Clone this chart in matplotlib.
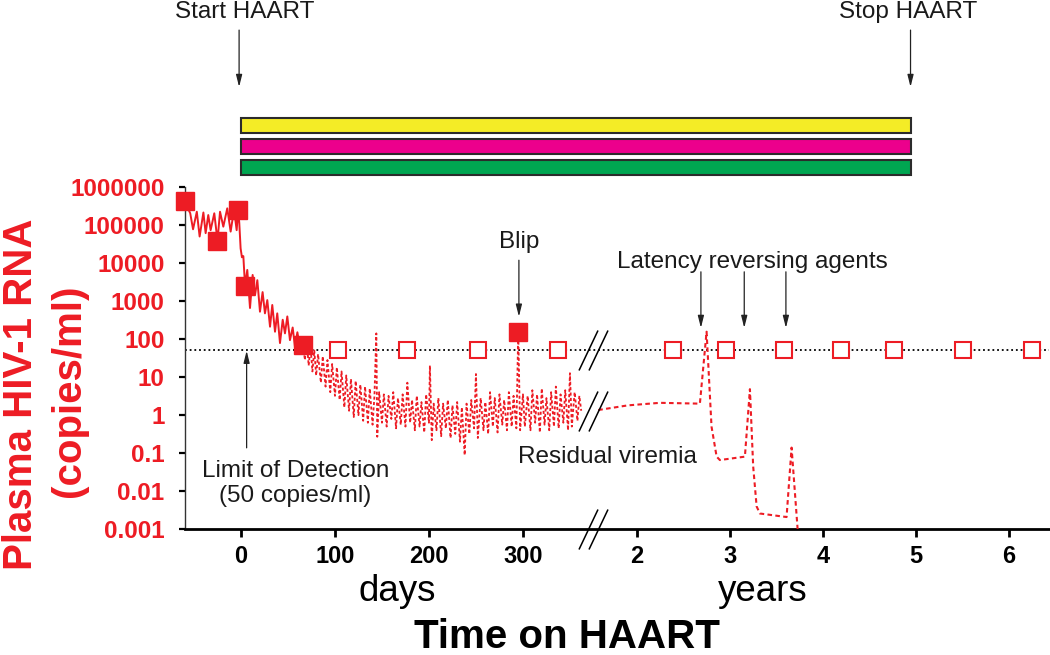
import numpy as np
import matplotlib
matplotlib.use("Agg")
import matplotlib.pyplot as plt
from matplotlib.patches import Rectangle
from matplotlib.path import Path
from matplotlib.ticker import FixedLocator, FixedFormatter, NullLocator

plt.rcParams['font.family'] = ['Liberation Sans', 'DejaVu Sans']

RED = '#ED1C24'
INK = '#1a1a1a'
DAYS_PER_YEAR = 365.25

# ---------------- data ----------------
# acute phase / first weeks of HAART (days, copies/ml)
early_days = [-60, -54, -51, -47, -44, -40, -37.6, -34.8, -32.3, -28.4, -25, -22.3, -18.8,
              -14.6, -11, -7.4, -4.6, -3, -1.8, -0.4, 1.0, 2.5, 4.3, 6.7, 9.6, 12.4, 14.9,
              17.4, 20.2, 23.0, 25.5, 28.0, 30.9, 33.3, 36.2, 38.6, 41.5, 44.4, 46.8, 49.3,
              52.1, 55.0, 57.4, 60.0, 63.0, 66.0]
early_vals = [4.1e5, 2.0e5, 7.6e4, 2.2e5, 4.9e4, 2.1e5, 6.0e4, 1.8e5, 7.2e4, 2.0e5, 3.8e4, 2.2e5,
              8.9e4, 2.7e5, 6.6e4, 2.5e5, 7.2e4, 2.5e5, 1.1e5, 2.4e4, 1.4e4, 1.5e4, 2.5e3, 6.5e3,
              650, 4.8e3, 1.4e3, 3.5e3, 520, 1.7e3, 470, 1.05e3, 210, 780, 155, 470, 78, 320,
              140, 390, 93, 200, 63, 150, 55, 71]

# residual viremia below the limit of detection (days, copies/ml)
resid_days = [66, 68, 70, 72, 74, 76, 78, 80, 82, 85, 87, 90, 92, 95, 97, 100, 102, 105, 107,
              110, 112, 115, 117, 120, 122, 125, 127, 130, 132, 135, 137, 140, 142, 144, 145,
              147, 150, 152, 155, 157, 160, 162, 165, 167, 170, 172, 175, 177, 180, 182, 185,
              187, 190, 192, 195, 197, 200, 201, 203, 205, 208, 210, 213, 215, 218, 220, 223,
              225, 228, 230, 233, 235, 238, 240, 243, 245, 248, 250, 252, 255, 258, 260, 263,
              265, 268, 270, 273, 275, 278, 280, 283, 285, 288, 290, 293, 295, 297, 300, 302,
              305, 308, 310, 313, 315, 318, 320, 323, 325, 328, 330, 333, 335, 338, 340, 343,
              345, 348, 350, 352, 355, 358, 360, 362]
resid_vals = [71, 28, 89, 20, 63, 14, 50, 11, 40, 7.1, 35, 5.6, 28, 4.0, 22, 3.2, 18, 2.5, 14,
              1.6, 11, 1.3, 8.9, 0.89, 7.9, 1.0, 6.3, 0.71, 5.6, 0.63, 5.0, 0.56, 3.2, 140, 0.27,
              4.0, 0.63, 3.5, 0.50, 3.2, 0.79, 4.0, 0.45, 2.8, 0.56, 3.5, 0.50, 7.1, 0.63, 2.5,
              0.40, 3.2, 0.50, 2.2, 0.35, 3.5, 0.63, 20, 0.22, 2.0, 0.40, 2.8, 0.28, 2.0, 0.45,
              2.5, 0.25, 1.8, 0.32, 2.2, 0.20, 1.6, 0.089, 2.0, 0.32, 2.5, 0.45, 12, 0.25, 2.8,
              0.40, 2.2, 0.32, 4.0, 0.50, 2.8, 0.35, 3.5, 0.56, 2.5, 0.40, 4.0, 0.50, 3.2, 0.45,
              155, 0.40, 3.5, 0.50, 3.2, 0.40, 4.5, 0.63, 3.5, 0.35, 5.0, 0.56, 2.8, 0.40, 4.0,
              0.50, 5.6, 0.45, 3.5, 0.63, 4.5, 0.40, 12.6, 0.50, 4.0, 0.71, 3.2, 1.3]

# years on HAART with latency reversing agents (years, copies/ml)
late_years = [1.582, 1.90, 2.245, 2.675, 2.747, 2.80, 2.855, 2.89, 3.159, 3.213, 3.248, 3.285,
              3.32, 3.607, 3.661, 3.726]
late_vals = [1.36, 1.8, 2.1, 2.0, 155, 0.5, 0.081, 0.066, 0.081, 4.8, 0.045, 0.004, 0.0026,
             0.0021, 0.14, 0.001]

# measured values: detectable (filled) and below limit of detection (open)
detected_days = [-60, -25, -3, 4.3, 66, 295]
detected_vals = [4.1e5, 3.8e4, 2.5e5, 2.5e3, 70, 155]
undetected_days = [103.5, 177, 252, 337.6]
undetected_years = [2.39, 2.955, 3.58, 4.19, 4.76, 5.50, 6.25]
LOD = 50

lra_years = [2.686, 3.152, 3.60]
blip_day = 295.7
haart_start_day = 0
haart_stop_year = 4.94
drug_colors = ['#F4EC26', '#EC008C', '#00A651']

ytick_vals = [1e6, 1e5, 1e4, 1e3, 1e2, 1e1, 1, 0.1, 0.01, 0.001]
ytick_labels = ['1000000', '100000', '10000', '1000', '100', '10', '1', '0.1', '0.01', '0.001']
xtick_days = [0, 100, 200, 300]
xtick_years = [2, 3, 4, 5, 6]

# ---------------- broken time axis (days | years) ----------------
BREAK_LEFT = 372.0
BREAK_RIGHT = 1.5 * DAYS_PER_YEAR
YEAR_COMPRESS = 0.2709


def fwd(d):
    d = np.asarray(d, dtype=float)
    return np.where(d <= BREAK_LEFT, d,
                    np.where(d >= BREAK_RIGHT, BREAK_LEFT + (d - BREAK_RIGHT) * YEAR_COMPRESS,
                             BREAK_LEFT))


def inv(u):
    u = np.asarray(u, dtype=float)
    return np.where(u <= BREAK_LEFT, u, BREAK_RIGHT + (u - BREAK_LEFT) / YEAR_COMPRESS)


def yr(v):
    return np.asarray(v, dtype=float) * DAYS_PER_YEAR


fig = plt.figure(figsize=(10.5, 6.55), dpi=100)
ax = fig.add_axes([0.1758, 0.1919, 0.8232, 0.5231])
ax.set_xscale('function', functions=(fwd, inv))
ax.set_yscale('log')
ax.set_xlim(-60, 2348)
ax.set_ylim(1e-3, 1e6)

# lines
ax.axhline(LOD, color='black', lw=1.3, ls=(0, (1, 1.6)), zorder=2)
ax.plot(early_days, early_vals, color=RED, lw=1.4, zorder=3, clip_on=False)
ax.plot(resid_days, resid_vals, color=RED, lw=1.3, ls=(0, (1.7, 1.3)), zorder=3)
ax.plot(yr(late_years), late_vals, color=RED, lw=1.5, ls=(0, (2.2, 1.6)), zorder=3)

# squares
ax.plot(detected_days, detected_vals, ls='none', marker='s', ms=12.5, mfc=RED, mec=RED,
        zorder=5, clip_on=False)
und_x = list(undetected_days) + list(yr(undetected_years))
ax.plot(und_x, [LOD] * len(und_x), ls='none', marker='s', ms=12, mfc='white', mec=RED,
        mew=1.5, zorder=5, clip_on=False)

# break marks
bx = np.array([-12.5, 6.5, -2.5, 16.5])
by = np.array([-20, 20, -20, 20])
slash_path = Path(np.column_stack([bx, by]),
                  [Path.MOVETO, Path.LINETO, Path.MOVETO, Path.LINETO])
for yv in (1e-3, LOD, 1.28):
    ax.plot([BREAK_LEFT], [yv], ls='none', marker=slash_path, ms=28.8, mec='black', mfc='none',
            mew=1.1, zorder=6, clip_on=False)

# axes styling
for s in ('top', 'right'):
    ax.spines[s].set_visible(False)
ax.spines['left'].set_linewidth(1.0)
ax.spines['left'].set_color('#333333')
ax.spines['bottom'].set_linewidth(2.0)

ax.yaxis.set_major_locator(FixedLocator(ytick_vals))
ax.yaxis.set_major_formatter(FixedFormatter(ytick_labels))
ax.yaxis.set_minor_locator(NullLocator())
xt = list(xtick_days) + list(yr(xtick_years))
ax.xaxis.set_major_locator(FixedLocator(xt))
ax.xaxis.set_major_formatter(FixedFormatter([str(v) for v in xtick_days + xtick_years]))
ax.xaxis.set_minor_locator(NullLocator())
ax.tick_params(axis='y', direction='out', length=4.5, width=1.6, pad=10, labelsize=17.5,
               labelcolor=RED)
ax.tick_params(axis='x', direction='out', length=6, width=2, pad=5, labelsize=17)
for lbl in ax.get_yticklabels() + ax.get_xticklabels():
    lbl.set_fontweight('bold')

# drug bars and HAART start/stop
xa = ax.get_xaxis_transform()
bar_bottoms = [1.1567, 1.0955, 1.0342]
bar_h = 0.0445
for c, b in zip(drug_colors, bar_bottoms):
    ax.add_patch(Rectangle((haart_start_day, b), yr(haart_stop_year) - haart_start_day, bar_h,
                           transform=xa, facecolor=c, edgecolor='#2b2b2b', lw=1.5,
                           clip_on=False))

arrow_kw = dict(arrowstyle='-|>,head_length=0.6,head_width=0.15', color='#222222', lw=0.9,
                mutation_scale=12, shrinkA=0, shrinkB=0)
for xv in (haart_start_day - 2, yr(haart_stop_year)):
    ax.annotate('', xy=(xv, 1.291), xytext=(xv, 1.457), xycoords=xa, textcoords=xa,
                arrowprops=arrow_kw)
txt_kw = dict(fontsize=17.5, color=INK, ha='center', va='baseline')
ax.text(4.3, 1.4924, 'Start HAART', transform=xa, **txt_kw)
ax.text(yr(4.91), 1.4924, 'Stop HAART', transform=xa, **txt_kw)

# annotations in the plot
ax.text(blip_day, 2.45e4, 'Blip', **txt_kw)
ax.annotate('', xy=(blip_day, 385), xytext=(blip_day, 1.17e4), arrowprops=arrow_kw)

ax.text(yr(3.236), 7.3e3, 'Latency reversing agents', **txt_kw)
for ly in lra_years:
    ax.annotate('', xy=(yr(ly), 195), xytext=(yr(ly), 5.8e3), arrowprops=arrow_kw)

ax.annotate('', xy=(6, 49), xytext=(6, 0.138), arrowprops=arrow_kw)
ax.text(58, 0.0237, 'Limit of Detection', **txt_kw)
ax.text(58, 0.0052, '(50 copies/ml)', **txt_kw)
ax.text(294.7, 0.055, 'Residual viremia', fontsize=17.5, color=INK, ha='left', va='baseline')

ax.text(166, -0.208, 'days', transform=xa, fontsize=26.5, color='black', ha='center',
        va='baseline')
ax.text(yr(3.35), -0.208, 'years', transform=xa, fontsize=26.5, color='black', ha='center',
        va='baseline')

fig.text(567 / 1050, 1 - 648.3 / 655, 'Time on HAART', fontsize=29, fontweight='bold',
         ha='center', va='baseline')
fig.text(31.7 / 1050, 1 - 394 / 655, 'Plasma HIV-1 RNA', fontsize=29, fontweight='bold',
         color=RED, rotation=90, rotation_mode='anchor', ha='center', va='baseline')
fig.text(79.5 / 1050, 1 - 391 / 655, '(copies/ml)', fontsize=29, fontweight='bold',
         color=RED, rotation=90, rotation_mode='anchor', ha='center', va='baseline')

fig.savefig('out.png', dpi=100)
